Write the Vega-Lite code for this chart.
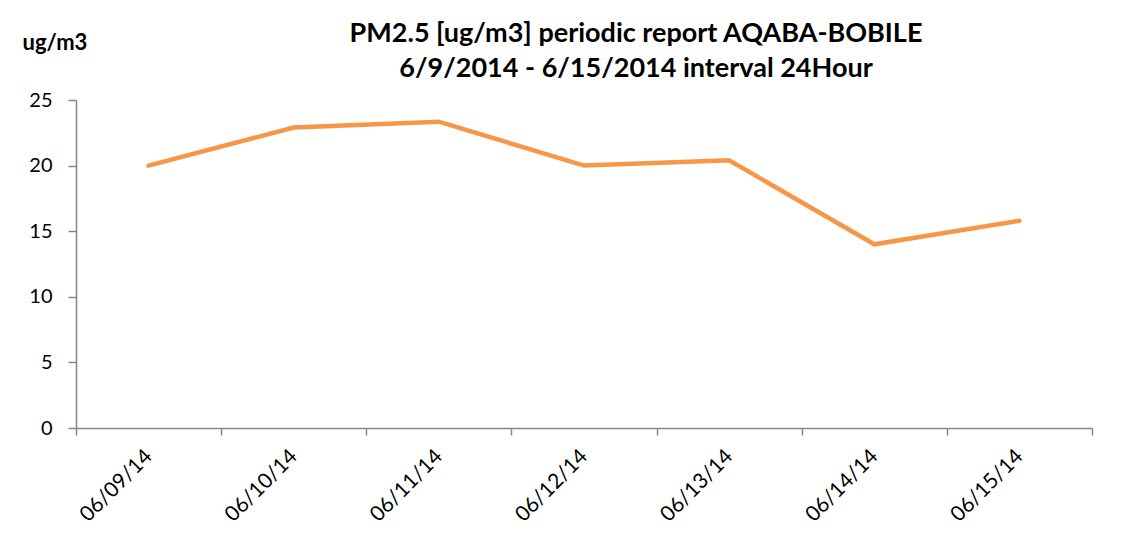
{
  "$schema": "https://vega.github.io/schema/vega-lite/v6.json",
  "width": 1016,
  "height": 328,
  "autosize": {"type": "none"},
  "padding": {"left": 76, "top": 100, "right": 46, "bottom": 126},
  "background": "white",
  "config": {"view": {"stroke": null}, "font": "Lato"},
  "title": {
    "text": ["PM2.5 [ug/m3] periodic report AQABA-BOBILE", "6/9/2014 - 6/15/2014 interval 24Hour"],
    "font": "Lato",
    "fontSize": 27,
    "fontWeight": "bold",
    "color": "#000000",
    "lineHeight": 35,
    "anchor": "middle",
    "dx": 52,
    "offset": -52
  },
  "data": {
    "values": [
      {"date": "06/09/14", "value": 20.0},
      {"date": "06/10/14", "value": 22.9},
      {"date": "06/11/14", "value": 23.35},
      {"date": "06/12/14", "value": 20.0},
      {"date": "06/13/14", "value": 20.4},
      {"date": "06/14/14", "value": 14.0},
      {"date": "06/15/14", "value": 15.8}
    ]
  },
  "mark": {"type": "line", "color": "#F79646", "strokeWidth": 4.5, "strokeCap": "round", "strokeJoin": "miter"},
  "encoding": {
    "x": {
      "field": "date",
      "type": "ordinal",
      "sort": null,
      "scale": {"type": "band", "paddingInner": 0, "paddingOuter": 0},
      "axis": {
        "title": null,
        "labelAngle": -45,
        "labelAlign": "right",
        "labelBaseline": "middle",
        "labelFont": "Lato",
        "labelFontSize": 21,
        "labelColor": "#000000",
        "labelPadding": 18,
        "labelDx": 4,
        "domainColor": "#868686",
        "domainWidth": 1.5,
        "tickColor": "#868686",
        "tickWidth": 1.5,
        "tickSize": 7,
        "tickBand": "extent",
        "grid": false
      }
    },
    "y": {
      "field": "value",
      "type": "quantitative",
      "scale": {"domain": [0, 25], "nice": false},
      "axis": {
        "values": [0, 5, 10, 15, 20, 25],
        "title": "ug/m3",
        "titleAngle": 0,
        "titleAlign": "left",
        "titleBaseline": "alphabetic",
        "titleX": -54,
        "titleY": -51,
        "titleFont": "Lato",
        "titleFontSize": 22,
        "titleFontWeight": "bold",
        "titleColor": "#000000",
        "labelFont": "Lato",
        "labelFontSize": 20,
        "labelColor": "#000000",
        "labelPadding": 16,
        "domainColor": "#868686",
        "domainWidth": 1.5,
        "tickColor": "#868686",
        "tickWidth": 1.5,
        "tickSize": 8,
        "grid": false
      }
    }
  }
}
